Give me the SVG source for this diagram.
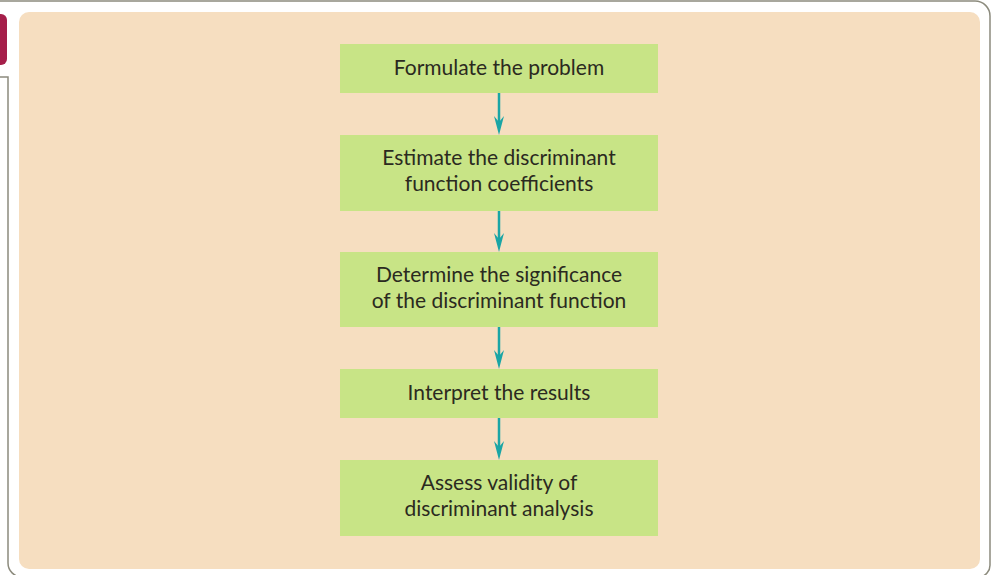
<svg xmlns="http://www.w3.org/2000/svg" width="992" height="575" viewBox="0 0 992 575">
<style>
.frame{fill:none;stroke:#8c8b7d;stroke-width:1.5}
.box{fill:#c8e486}
.lbl{font-family:Lato,"Open Sans",sans-serif;font-size:21px;fill:#2b2a1f;text-anchor:middle}
.arr{stroke:#1aa5a5;stroke-width:2.5;fill:none}
.head{fill:#1aa5a5}
</style>
<rect width="992" height="575" fill="#ffffff"/>
<g id="frame">
<path class="frame" d="M0,1 H975 A15,15 0 0 1 990,16 V565 A12,12 0 0 1 980,577"/>
<path class="frame" d="M0,77 H8 V563 A14,14 0 0 0 22,577"/>
<path d="M0,14 H1 A6,6 0 0 1 7,20 V59 A6,6 0 0 1 1,65 H0 Z" fill="#a51e4a"/>
</g>
<rect id="panel" x="19" y="12" width="961" height="557" rx="10" fill="#f6dec0"/>
<g id="connectors">
<line class="arr" x1="499" y1="93" x2="499" y2="124"/>
<path class="head" d="M494,116 L499,122 L504,116 L499,135 Z"/>
<line class="arr" x1="499" y1="211" x2="499" y2="241"/>
<path class="head" d="M494,233 L499,239 L504,233 L499,252 Z"/>
<line class="arr" x1="499" y1="327" x2="499" y2="358"/>
<path class="head" d="M494,350 L499,356 L504,350 L499,369 Z"/>
<line class="arr" x1="499" y1="418" x2="499" y2="449"/>
<path class="head" d="M494,441 L499,447 L504,441 L499,460 Z"/>
</g>
<g id="n1"><rect class="box" x="340" y="44" width="318" height="49"/><text class="lbl" x="499" y="75">Formulate the problem</text></g>
<g id="n2"><rect class="box" x="340" y="135" width="318" height="76"/><text class="lbl" x="499" y="165">Estimate the discriminant</text><text class="lbl" x="499" y="191">function coefficients</text></g>
<g id="n3"><rect class="box" x="340" y="252" width="318" height="75"/><text class="lbl" x="499" y="282">Determine the significance</text><text class="lbl" x="499" y="308">of the discriminant function</text></g>
<g id="n4"><rect class="box" x="340" y="369" width="318" height="49"/><text class="lbl" x="499" y="400">Interpret the results</text></g>
<g id="n5"><rect class="box" x="340" y="460" width="318" height="76"/><text class="lbl" x="499" y="490">Assess validity of</text><text class="lbl" x="499" y="516">discriminant analysis</text></g>
</svg>
